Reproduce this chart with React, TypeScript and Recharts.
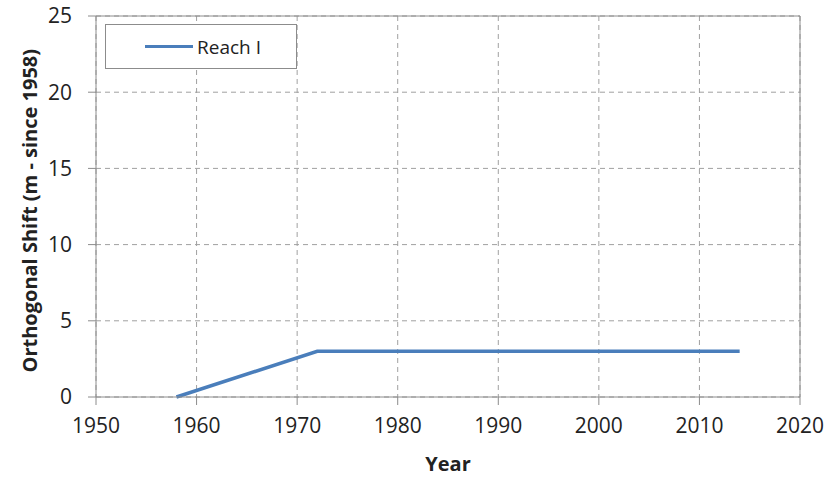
import { CartesianGrid, Line, LineChart, ReferenceLine, XAxis, YAxis } from 'recharts';

// Year / orthogonal shift for Reach I
const years = [1958, 1972, 2014];
const shift = [0, 3, 3];
const xTicks = [1950, 1960, 1970, 1980, 1990, 2000, 2010, 2020];
const yTicks = [0, 5, 10, 15, 20, 25];

const data = years.map((year, i) => ({ year, reach: shift[i] }));

const FONT = '"Open Sans", "Noto Sans", sans-serif';
const AXIS = '#8c8c8c';
const BLUE = '#4a7ebb';

// legend drawn as an overlay so it does not take space from the plot
function LegendBox() {
  return (
    <div
      style={{
        position: 'absolute',
        left: 105,
        top: 24,
        width: 190,
        height: 43,
        border: `1px solid ${AXIS}`,
        background: '#fff',
        display: 'flex',
        alignItems: 'center',
        fontFamily: FONT,
        fontSize: 19,
        color: '#222',
      }}
    >
      <span style={{ display: 'inline-block', width: 48, height: 3, background: BLUE, marginLeft: 39, marginRight: 4 }} />
      Reach I
    </div>
  );
}

export default function App() {
  return (
    <div style={{ position: 'fixed', left: 0, top: 0, width: 838, height: 479, background: '#fff' }}>
      <LineChart width={838} height={479} data={data} margin={{ top: 16, right: 38, left: 36, bottom: 32 }}>
        <CartesianGrid stroke="#a0a0a0" strokeDasharray="5 4" />
        <XAxis
          dataKey="year"
          type="number"
          domain={[1950, 2020]}
          ticks={xTicks}
          interval={0}
          stroke={AXIS}
          tickSize={8}
          tickMargin={13}
          height={50}
          tick={{ fill: '#222', fontSize: 21, fontFamily: FONT }}
          label={{ value: 'Year', position: 'insideBottom', offset: -24, fill: '#222', fontSize: 20, fontWeight: 700, fontFamily: FONT }}
        />
        <YAxis
          type="number"
          domain={[0, 25]}
          ticks={yTicks}
          interval={0}
          stroke={AXIS}
          tickSize={8}
          tickMargin={16}
          width={60}
          tick={{ fill: '#222', fontSize: 21, fontFamily: FONT }}
          label={{
            value: 'Orthogonal Shift (m - since 1958)',
            angle: -90,
            position: 'insideLeft',
            dx: -11,
            dy: 166,
            fill: '#222',
            fontSize: 20,
            fontWeight: 700,
            fontFamily: FONT,
          }}
        />
        <ReferenceLine y={25} stroke={AXIS} />
        <ReferenceLine x={2020} stroke={AXIS} />
        <Line
          dataKey="reach"
          name="Reach I"
          stroke={BLUE}
          strokeWidth={3.5}
          dot={false}
          isAnimationActive={false}
        />
      </LineChart>
      <LegendBox />
    </div>
  );
}
